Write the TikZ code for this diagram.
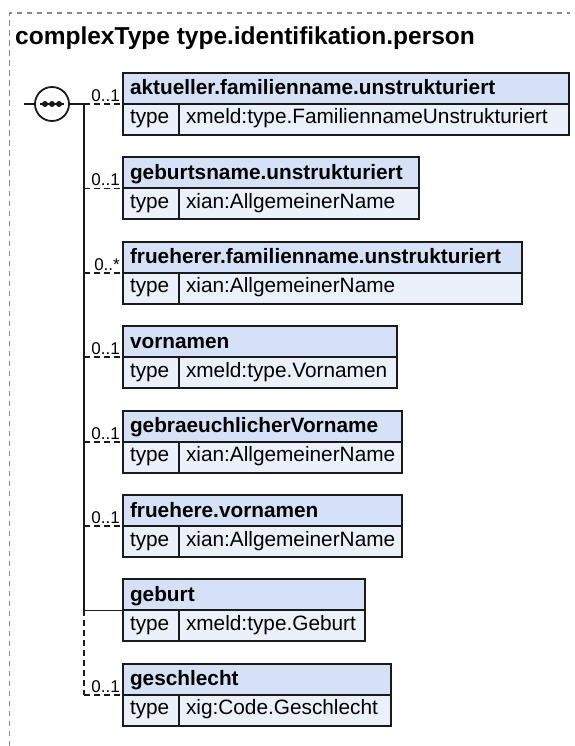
\documentclass[tikz,border=0pt]{standalone}
\usepackage{fontspec}
\setmainfont{Liberation Sans}
\usepackage{xcolor}
\usepackage{tikz}
\usetikzlibrary{positioning}
\definecolor{HeadBlue}{HTML}{D5E1F6}
\definecolor{TypeBlue}{HTML}{EBF1FB}
\definecolor{WireDark}{HTML}{1A1A1A}
\definecolor{FrameGray}{HTML}{8A8A8A}
\newcommand{\elemfont}{\fontsize{20.8}{25}\selectfont}

\begin{document}
\begin{tikzpicture}[
    x=1pt, y=-1pt,
    frame/.style={draw=FrameGray, line width=1.4pt, dash pattern=on 5.5pt off 4.5pt},
    hdr/.style={rectangle, draw=WireDark, line width=1.9pt, fill=HeadBlue, anchor=north west, outer sep=0pt, inner xsep=7pt, inner ysep=4.5pt, text height=17.5pt, text depth=4.5pt, text width=#1, align=left, font=\elemfont\bfseries},
    typ/.style={rectangle, draw=WireDark, line width=1.9pt, fill=TypeBlue, anchor=north west, outer sep=0pt, inner xsep=7pt, inner ysep=4pt, text height=16pt, text depth=7pt, text width=42pt, align=left, font=\elemfont},
    val/.style={typ, text width=#1},
    card/.style={anchor=base east, inner sep=0pt, font=\fontsize{17}{20}\selectfont, xshift=-3pt, yshift=2.5pt},
    wire/.style={draw=WireDark, line width=1.8pt},
    opt/.style={wire, dash pattern=on 6pt off 4pt}
]
\useasboundingbox (0,0) rectangle (574,746);
\draw[frame] (9.5,746) -- (9.5,13) -- (570,13);

\node[anchor=base west, inner sep=0pt, font=\fontsize{24.5}{29}\selectfont\bfseries] (title) at (15,45) {complexType type.identifikation.person};

\node[hdr=432pt] (e1) at (123,73) {aktueller.familienname.unstrukturiert};
\node[typ] (e1t) at (e1.south west) {type};
\node[val=376pt] (e1v) at (e1t.north east) {xmeld:type.FamiliennameUnstrukturiert};

\node[hdr=282pt] (e2) at (123,157.4) {geburtsname.unstrukturiert};
\node[typ] (e2t) at (e2.south west) {type};
\node[val=226pt] (e2v) at (e2t.north east) {xian:AllgemeinerName};

\node[hdr=385pt] (e3) at (123,241.8) {frueherer.familienname.unstrukturiert};
\node[typ] (e3t) at (e3.south west) {type};
\node[val=329pt] (e3v) at (e3t.north east) {xian:AllgemeinerName};

\node[hdr=260pt] (e4) at (123,326.2) {vornamen};
\node[typ] (e4t) at (e4.south west) {type};
\node[val=204pt] (e4v) at (e4t.north east) {xmeld:type.Vornamen};

\node[hdr=265pt] (e5) at (123,410.6) {gebraeuchlicherVorname};
\node[typ] (e5t) at (e5.south west) {type};
\node[val=209pt] (e5v) at (e5t.north east) {xian:AllgemeinerName};

\node[hdr=265pt] (e6) at (123,495) {fruehere.vornamen};
\node[typ] (e6t) at (e6.south west) {type};
\node[val=209pt] (e6v) at (e6t.north east) {xian:AllgemeinerName};

\node[hdr=228pt] (e7) at (123,579.4) {geburt};
\node[typ] (e7t) at (e7.south west) {type};
\node[val=172pt] (e7v) at (e7t.north east) {xmeld:type.Geburt};

\node[hdr=254pt] (e8) at (123,663.8) {geschlecht};
\node[typ] (e8t) at (e8.south west) {type};
\node[val=198pt] (e8v) at (e8t.north east) {xig:Code.Geschlecht};

% sequence compositor
\node[circle, draw=WireDark, line width=1.8pt, fill=white, minimum size=34pt, inner sep=0pt, outer sep=0pt] (seq) at (52,104) {};
\coordinate (in) at (24,104);
\coordinate (bus) at (84,104);
\draw[wire] (in) -- (seq);
\draw[wire] (seq) -- (bus);
\draw[wire] ([xshift=-12pt]seq.center) -- ([xshift=12pt]seq.center);
\foreach \dx in {-7,0,7}{\fill[WireDark] ([xshift=\dx pt]seq.center) circle (3pt);}

\draw[wire] (bus) -- (bus |- e7.south west);
\draw[opt] (bus |- e7.south west) -- (bus |- e8.south west);
\foreach \e in {e1,e2,e3,e4,e5,e6,e8}{\draw[opt] (bus |- \e.south west) -- (\e.south west);}
\draw[wire] (bus |- e7.south west) -- (e7.south west);

\foreach \e/\c in {e1/0..1,e2/0..1,e3/0..*,e4/0..1,e5/0..1,e6/0..1,e8/0..1}{\node[card] (\e c) at (\e.south west) {\c};}

\end{tikzpicture}
\end{document}
